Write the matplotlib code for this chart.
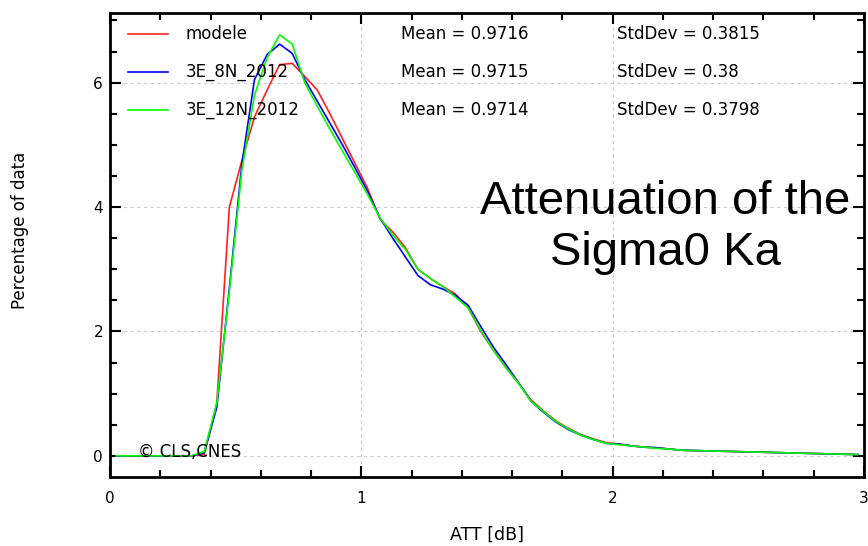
import numpy as np
import matplotlib
matplotlib.use("Agg")
import matplotlib.pyplot as plt
from matplotlib.ticker import MultipleLocator

# bin centres of the ATT histogram [dB]
att = np.arange(0.025, 3.0, 0.05)

modele = [0, 0, 0, 0, 0, 0, 0, 0.02, 0.85, 4.0,
          4.75, 5.45, 5.88, 6.29, 6.31, 6.1, 5.88, 5.5, 5.1, 4.7,
          4.3, 3.8, 3.6, 3.35, 3.0, 2.85, 2.72, 2.6, 2.38, 2.0,
          1.7, 1.42, 1.17, 0.9, 0.72, 0.56, 0.44, 0.34, 0.27, 0.21,
          0.19, 0.16, 0.14, 0.13, 0.11, 0.09, 0.085, 0.08, 0.075, 0.07,
          0.065, 0.06, 0.055, 0.05, 0.045, 0.04, 0.035, 0.03, 0.025, 0.02]
e8n = [0, 0, 0, 0, 0, 0, 0, 0.05, 0.78, 2.7,
       4.7, 6.05, 6.45, 6.62, 6.47, 6.05, 5.7, 5.35, 5.0, 4.63,
       4.25, 3.82, 3.5, 3.2, 2.9, 2.75, 2.68, 2.58, 2.42, 2.08,
       1.75, 1.47, 1.18, 0.88, 0.7, 0.54, 0.42, 0.33, 0.26, 0.2,
       0.19, 0.16, 0.14, 0.13, 0.11, 0.09, 0.085, 0.08, 0.075, 0.07,
       0.065, 0.06, 0.055, 0.05, 0.045, 0.04, 0.035, 0.03, 0.025, 0.02]
e12n = [0, 0, 0, 0, 0, 0, 0, 0.07, 0.85, 2.65,
        4.6, 5.8, 6.4, 6.77, 6.62, 6.0, 5.62, 5.25, 4.9, 4.55,
        4.2, 3.82, 3.55, 3.32, 3.0, 2.85, 2.72, 2.55, 2.38, 2.02,
        1.7, 1.42, 1.17, 0.88, 0.71, 0.55, 0.43, 0.33, 0.26, 0.2,
        0.18, 0.16, 0.14, 0.12, 0.11, 0.09, 0.085, 0.08, 0.075, 0.07,
        0.065, 0.06, 0.055, 0.05, 0.045, 0.04, 0.035, 0.03, 0.025, 0.02]

names = ['modele', '3E_8N_2012', '3E_12N_2012']
colors = ['#ff2020', '#0000ff', '#00ff00']
means = ['0.9716', '0.9715', '0.9714']
stds = ['0.3815', '0.38', '0.3798']

fig = plt.figure(figsize=(8.68, 5.46), dpi=100)
ax = fig.add_axes([0.1267, 0.1264, 0.8687, 0.8498])

for y, c in zip([modele, e8n, e12n], colors):
    ax.plot(att, y, color=c, lw=1.2)

ax.set_xlim(0, 3)
ax.set_ylim(-0.34, 7.12)
ax.xaxis.set_major_locator(MultipleLocator(1))
ax.xaxis.set_minor_locator(MultipleLocator(0.2))
ax.yaxis.set_major_locator(MultipleLocator(2))
ax.yaxis.set_minor_locator(MultipleLocator(0.5))
ax.tick_params(which='both', direction='in', top=True, right=True, width=1.5)
ax.tick_params(which='major', length=8, labelsize=11)
ax.tick_params(axis='x', which='major', pad=10)
ax.tick_params(axis='y', which='major', pad=5)
ax.tick_params(which='minor', length=5)
for s in ax.spines.values():
    s.set_linewidth(2)
ax.grid(True, which='major', color='#cccccc', ls=(0, (3, 3)), lw=0.8)

ax.set_xlabel('ATT [dB]', fontsize=12.5)
ax.set_ylabel('Percentage of data', fontsize=12)
ax.xaxis.set_label_coords(0.5, -0.105)
ax.yaxis.set_label_coords(-0.1074, 0.532)

# legend table
rows_y = [0.9547, 0.8728, 0.791]
for yy, name, c, m, s in zip(rows_y, names, colors, means, stds):
    ax.plot([0.0239, 0.0769], [yy, yy], color=c, lw=1.2, transform=ax.transAxes)
    ax.text(0.1008, yy, name, transform=ax.transAxes, va='center', fontsize=12)
    ax.text(0.386, yy, 'Mean = ' + m, transform=ax.transAxes, va='center', fontsize=12)
    ax.text(0.672, yy, 'StdDev = ' + s, transform=ax.transAxes, va='center', fontsize=12)

ax.text(0.037, 0.054, '\u00a9 CLS,CNES', transform=ax.transAxes, va='center', fontsize=12)

ax.text(0.736, 0.537, 'Attenuation of the\nSigma0 Ka', transform=ax.transAxes,
        ha='center', va='center', multialignment='center', fontsize=34,
        family='Liberation Sans', linespacing=1.2)

fig.savefig('out.png', dpi=100)
